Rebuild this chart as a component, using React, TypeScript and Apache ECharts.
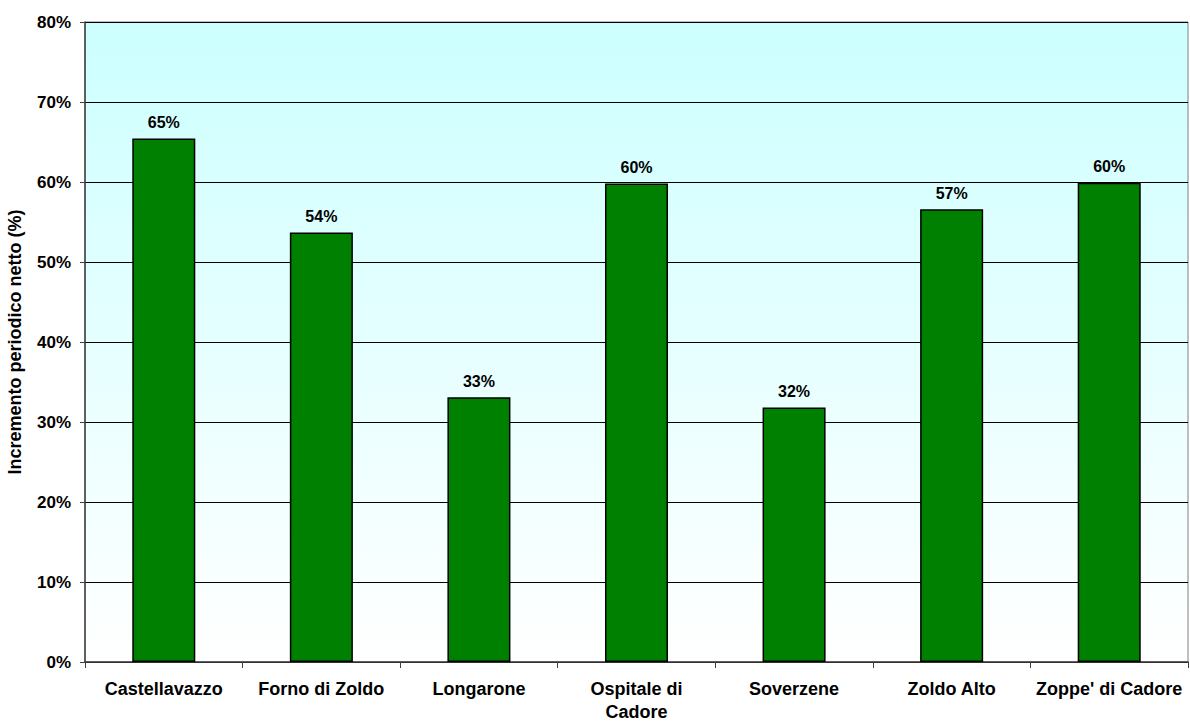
import React, { useEffect, useRef } from "react";
import * as echarts from "echarts";

const categories = [
  "Castellavazzo",
  "Forno di Zoldo",
  "Longarone",
  "Ospitale di Cadore",
  "Soverzene",
  "Zoldo Alto",
  "Zoppe' di Cadore",
];
const values = [65.45, 53.7, 33.1, 59.8, 31.8, 56.6, 59.9];
const yTicks = [0, 10, 20, 30, 40, 50, 60, 70, 80];
const yAxisTitle = "Incremento periodico netto (%)";

export default function App() {
  const ref = useRef<HTMLDivElement>(null);
  useEffect(() => {
    if (!ref.current) return;
    const chart = echarts.init(ref.current, null, { renderer: "svg" });
    const font = "'Liberation Sans', Arial, sans-serif";
    chart.setOption({
      animation: false,
      grid: {
        left: 85,
        right: 2,
        top: 22,
        bottom: 60,
        outerBoundsMode: "none",
        containLabel: false,
        show: true,
        borderColor: "#808080",
        borderWidth: 1,
        backgroundColor: new echarts.graphic.LinearGradient(0, 0, 0, 1, [
          { offset: 0, color: "#CCFFFF" },
          { offset: 1, color: "#FFFFFF" },
        ]),
      },
      xAxis: {
        type: "category",
        data: categories,
        axisLine: { lineStyle: { color: "#404040", width: 1.5 } },
        axisTick: { show: true, length: 6, lineStyle: { color: "#404040" } },
        axisLabel: {
          interval: 0,
          margin: 15,
          color: "#000",
          fontFamily: font,
          fontWeight: "bold",
          fontSize: 18,
          lineHeight: 23,
          hideOverlap: false,
          formatter: (v: string) =>
            v.length > 16 ? v.replace(/ (\S+)$/, "\n$1") : v,
        },
      },
      yAxis: {
        type: "value",
        min: 0,
        max: 80,
        interval: 10,
        name: yAxisTitle,
        nameLocation: "middle",
        nameGap: 61,
        nameTextStyle: {
          color: "#000",
          fontFamily: font,
          fontWeight: "bold",
          fontSize: 18,
        },
        axisLine: { show: true, lineStyle: { color: "#404040", width: 1.5 } },
        axisTick: { show: true, length: 5, lineStyle: { color: "#404040" } },
        axisLabel: {
          margin: 14,
          color: "#000",
          fontFamily: font,
          fontWeight: "bold",
          fontSize: 17,
          formatter: (v: number) => (yTicks.includes(v) ? v + "%" : ""),
        },
        splitLine: { show: true, lineStyle: { color: "#000", width: 1 } },
      },
      series: [
        {
          type: "bar",
          data: values,
          barWidth: "40%",
          itemStyle: { color: "#008000", borderColor: "#000", borderWidth: 1.5 },
          label: {
            show: true,
            position: "top",
            distance: 8,
            color: "#000",
            fontFamily: font,
            fontWeight: "bold",
            fontSize: 16,
            formatter: (p: any) => Math.floor(p.value) + (p.value % 1 >= 0.5 && p.value % 1 < 0.5 ? 1 : (p.value % 1 > 0.5 ? 1 : 0)) + "%",
          },
        },
      ],
    });
    return () => chart.dispose();
  }, []);
  return <div ref={ref} style={{ width: 1190, height: 722, position: "absolute", left: 0, top: 0 }} />;
}
